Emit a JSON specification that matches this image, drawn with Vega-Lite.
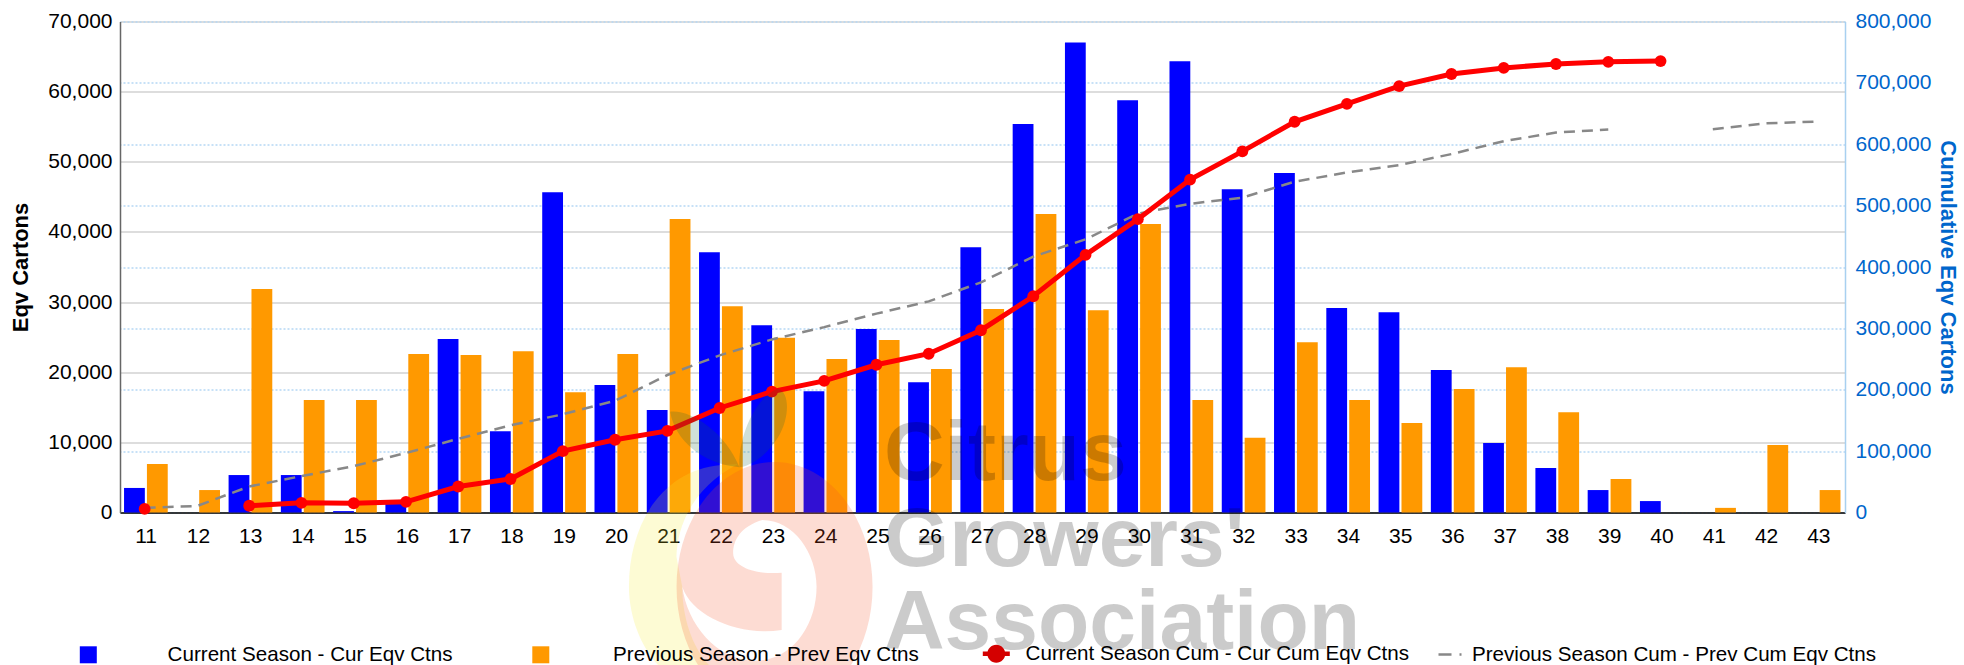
{"$schema":"https://vega.github.io/schema/vega-lite/v6.json","autosize":{"type":"none"},"width":1725,"height":491,"padding":{"left":120,"top":21.5,"right":119,"bottom":152.5},"background":"white","config":{"view":{"stroke":null},"legend":{"padding":0,"title":null,"labelLimit":600},"text":{"font":"Liberation Sans"},"axis":{"labelFont":"Liberation Sans","titleFont":"Liberation Sans"}},"datasets":{"weekly":[{"week":"11","cur":3500,"prev":6920,"curCum":5800,"prevCum":7600},{"week":"12","cur":0,"prev":3200,"curCum":null,"prevCum":10500},{"week":"13","cur":5340,"prev":31860,"curCum":11000,"prevCum":42400},{"week":"14","cur":5340,"prev":16030,"curCum":15700,"prevCum":59300},{"week":"15","cur":200,"prev":16030,"curCum":15100,"prevCum":75600},{"week":"16","cur":1780,"prev":22600,"curCum":17400,"prevCum":97000},{"week":"17","cur":24730,"prev":22440,"curCum":42400,"prevCum":120000},{"week":"18","cur":11600,"prev":23000,"curCum":54600,"prevCum":142000},{"week":"19","cur":45650,"prev":17150,"curCum":100000,"prevCum":160000},{"week":"20","cur":18170,"prev":22600,"curCum":118600,"prevCum":182000},{"week":"21","cur":14600,"prev":41830,"curCum":133000,"prevCum":224000},{"week":"22","cur":37100,"prev":29400,"curCum":170300,"prevCum":256000},{"week":"23","cur":26700,"prev":24900,"curCum":197000,"prevCum":282000},{"week":"24","cur":17300,"prev":21880,"curCum":214500,"prevCum":302000},{"week":"25","cur":26160,"prev":24580,"curCum":240700,"prevCum":324000},{"week":"26","cur":18570,"prev":20460,"curCum":258700,"prevCum":344000},{"week":"27","cur":37800,"prev":29000,"curCum":297000,"prevCum":375000},{"week":"28","cur":55370,"prev":42540,"curCum":352300,"prevCum":417000},{"week":"29","cur":67020,"prev":28850,"curCum":419800,"prevCum":445000},{"week":"30","cur":58780,"prev":41120,"curCum":477900,"prevCum":487000},{"week":"31","cur":64330,"prev":16030,"curCum":542400,"prevCum":503000},{"week":"32","cur":46100,"prev":10640,"curCum":588400,"prevCum":513000},{"week":"33","cur":48400,"prev":24270,"curCum":636600,"prevCum":539000},{"week":"34","cur":29160,"prev":16030,"curCum":665700,"prevCum":554000},{"week":"35","cur":28550,"prev":12770,"curCum":694800,"prevCum":566000},{"week":"36","cur":20300,"prev":17600,"curCum":714500,"prevCum":584000},{"week":"37","cur":9920,"prev":20710,"curCum":724400,"prevCum":605000},{"week":"38","cur":6360,"prev":14300,"curCum":730800,"prevCum":619000},{"week":"39","cur":3200,"prev":4780,"curCum":734300,"prevCum":624000},{"week":"40","cur":1630,"prev":null,"curCum":735500,"prevCum":null},{"week":"41","cur":0,"prev":660,"curCum":null,"prevCum":624500},{"week":"42","cur":0,"prev":9620,"curCum":null,"prevCum":634000},{"week":"43","cur":0,"prev":3200,"curCum":null,"prevCum":637000}],"logoText":[{"week":"25","pos":4600,"label":"Citrus"},{"week":"25","pos":-7640,"label":"Growers'"},{"week":"25","pos":-19470,"label":"Association"}],"logoAnchor":[{"week":"25","pos":0}]},"resolve":{"scale":{"y":"independent","color":"independent"},"axis":{"y":"independent"},"legend":{"color":"independent"}},"layer":[{"data":{"name":"weekly"},"mark":{"type":"bar","width":20.8,"xOffset":-11.7},"encoding":{"x":{"field":"week","type":"ordinal","sort":null,"scale":{"paddingInner":0,"paddingOuter":0},"axis":{"title":null,"labelAngle":0,"labelFontSize":21,"labelColor":"#000","labelPadding":13,"ticks":false,"domainColor":"#000","domainWidth":1.5,"grid":false}},"y":{"field":"cur","type":"quantitative","scale":{"domain":[0,70000]},"axis":{"orient":"left","title":"Eqv Cartons","titleFontSize":22,"titleFontWeight":"bold","titleColor":"#000","titlePadding":15,"values":[0,10000,20000,30000,40000,50000,60000,70000],"format":",.0f","labelFontSize":21,"labelColor":"#000","labelPadding":8,"ticks":false,"domainColor":"#666","domainWidth":1.5,"grid":true,"gridColor":"#d2d2d2","gridWidth":1.5}},"color":{"datum":"Current Season - Cur Eqv Ctns","scale":{"range":["#0000ff"]},"legend":{"orient":"none","legendX":-42,"legendY":623,"symbolType":"square","symbolSize":289,"symbolOpacity":1,"labelOffset":69,"labelFontSize":20.6,"labelFont":"Liberation Sans","labelColor":"#000"}}}},{"data":{"name":"weekly"},"mark":{"type":"bar","width":20.8,"xOffset":11.2},"encoding":{"x":{"field":"week","type":"ordinal","sort":null},"y":{"field":"prev","type":"quantitative","scale":{"domain":[0,70000]},"axis":null},"color":{"datum":"Previous Season - Prev Eqv Ctns","scale":{"range":["#ff9900"]},"legend":{"orient":"none","legendX":410.5,"legendY":623,"symbolType":"square","symbolSize":289,"labelOffset":62,"labelFontSize":20.6,"labelFont":"Liberation Sans","labelColor":"#000"}}}},{"data":{"name":"weekly"},"mark":{"type":"line","strokeWidth":2.5,"strokeDash":[11,7],"xOffset":-1.5},"encoding":{"x":{"field":"week","type":"ordinal","sort":null},"y":{"field":"prevCum","type":"quantitative","scale":{"domain":[0,800000]},"axis":{"orient":"right","title":"Cumulative Eqv Cartons","titleFontSize":22,"titleFontWeight":"bold","titleColor":"#0066cc","titlePadding":5,"values":[0,100000,200000,300000,400000,500000,600000,700000,800000],"format":",.0f","labelFontSize":21,"labelColor":"#0066cc","labelPadding":10,"ticks":false,"domainColor":"#a8d0f0","domainWidth":1.5,"grid":true,"gridColor":"#b5d8f5","gridWidth":1.5,"gridDash":[2,2]}},"color":{"datum":"Previous Season Cum - Prev Cum Eqv Ctns","scale":{"range":["#888888"]},"legend":{"orient":"none","legendX":1317,"legendY":620,"symbolType":"stroke","symbolSize":529,"symbolDash":[13,8],"symbolStrokeWidth":2.5,"labelOffset":9,"labelFontSize":20.6,"labelFont":"Liberation Sans","labelColor":"#000"}}}},{"data":{"name":"weekly"},"mark":{"type":"line","strokeWidth":5,"xOffset":-1.5},"encoding":{"x":{"field":"week","type":"ordinal","sort":null},"y":{"field":"curCum","type":"quantitative","scale":{"domain":[0,800000]},"axis":null},"color":{"datum":"Current Season Cum - Cur Cum Eqv Ctns","scale":{"range":["#ff0000"]},"legend":{"orient":"none","legendX":866,"legendY":622,"symbolType":"M-1.5,-0.25 L1.5,-0.25 L1.5,0.25 L-1.5,0.25 Z M0,-1 C0.55,-1 1,-0.55 1,0 C1,0.55 0.55,1 0,1 C-0.55,1 -1,0.55 -1,0 C-1,-0.55 -0.55,-1 0,-1 Z","symbolSize":324,"symbolFillColor":"#d40000","symbolStrokeColor":"#d40000","symbolStrokeWidth":0,"labelOffset":19,"labelFontSize":20.6,"labelFont":"Liberation Sans","labelColor":"#000"}}}},{"data":{"name":"weekly"},"mark":{"type":"point","filled":true,"size":140,"color":"#ff0000","opacity":1,"xOffset":-1.5},"encoding":{"x":{"field":"week","type":"ordinal","sort":null},"y":{"field":"curCum","type":"quantitative","scale":{"domain":[0,800000]},"axis":null}}},{"data":{"name":"logoAnchor"},"mark":{"type":"point","filled":true,"size":4,"color":"#f5eb28","opacity":0.2,"shape":"M-156.9,-47.5 C-215.1,-42.5 -249,10.8 -249,74.2 C-249,104.2 -236.9,134.2 -219.9,152.5 L-169,152.5 C-186,134.2 -195.7,104.2 -195.7,74.2 L-201.5,44.2 C-200.5,10.8 -183.6,-25.8 -139.9,-48.5 Z"},"encoding":{"x":{"field":"week","type":"ordinal","sort":null},"y":{"field":"pos","type":"quantitative","scale":{"domain":[0,70000]},"axis":null}}},{"data":{"name":"logoAnchor"},"mark":{"type":"point","filled":true,"size":4,"color":"#f55023","opacity":0.2,"shape":"M-103.4,-50.5 C-49.3,-50.5 -5.4,5.5 -5.4,74.5 C-5.4,143.5 -49.3,199.5 -103.4,199.5 C-157.5,199.5 -201.4,143.5 -201.4,74.5 C-201.4,5.5 -157.5,-50.5 -103.4,-50.5 Z M-115.7,7.5 C-137.5,14.2 -144.8,27.5 -144.8,40.8 C-144.8,54.2 -123,62.5 -96.3,60.2 L-96.3,117.5 C-137.5,124.2 -186,104.2 -195.7,74.2 C-190.8,110.8 -161.8,148.2 -123,148.2 C-84.2,148.2 -61.4,110.8 -61.4,74.2 C-61.4,40.8 -84.2,7.5 -115.7,7.5 Z"},"encoding":{"x":{"field":"week","type":"ordinal","sort":null},"y":{"field":"pos","type":"quantitative","scale":{"domain":[0,70000]},"axis":null}}},{"data":{"name":"logoAnchor"},"mark":{"type":"point","filled":true,"size":4,"color":"#14643c","opacity":0.2,"shape":"M-207.8,-100.8 C-186,-103 -152.1,-79.2 -138.5,-45.2 C-176.3,-49.2 -203,-72.5 -207.8,-100.8 Z M-138.5,-45.2 C-140,-75 -123,-115 -100,-124 C-88,-120 -88,-95 -100,-75 C-108,-62 -122,-48 -138.5,-45.2 Z"},"encoding":{"x":{"field":"week","type":"ordinal","sort":null},"y":{"field":"pos","type":"quantitative","scale":{"domain":[0,70000]},"axis":null}}},{"data":{"name":"logoText"},"mark":{"type":"text","font":"Liberation Sans","fontWeight":"bold","fontSize":84,"color":"#000","opacity":0.2,"align":"left","baseline":"alphabetic","dx":6},"encoding":{"x":{"field":"week","type":"ordinal","sort":null},"y":{"field":"pos","type":"quantitative","scale":{"domain":[0,70000]},"axis":null},"text":{"field":"label"}}}]}
